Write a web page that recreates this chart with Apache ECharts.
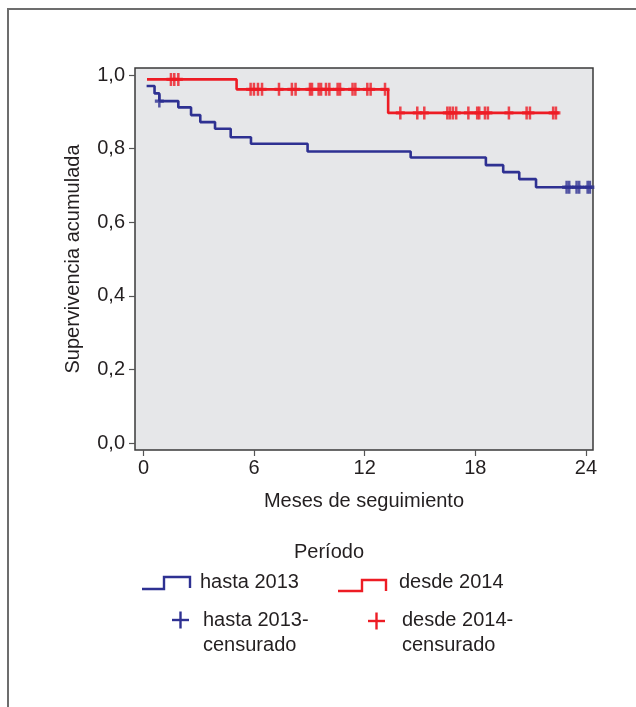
<!DOCTYPE html>
<html>
<head>
<meta charset="utf-8">
<script src="https://cdn.jsdelivr.net/npm/echarts@6/dist/echarts.min.js"></script>
<style>
html,body{margin:0;padding:0;background:#fff;}
#c{width:636px;height:707px;}
</style>
</head>
<body>
<div id="c"></div>
<script>
// ---- data ----
const xTicks = [0, 6, 12, 18, 24];
const yTicks = [0, 0.2, 0.4, 0.6, 0.8, 1.0];

const blueTimes = [0.17, 0.6, 0.86, 1.89, 2.58, 3.08, 3.88, 4.73, 5.83, 8.9, 14.49, 18.57, 19.51, 20.38, 21.29, 24.3];
const blueSurv  = [0.970, 0.950, 0.929, 0.912, 0.891, 0.872, 0.854, 0.831, 0.813, 0.792, 0.776, 0.755, 0.736, 0.717, 0.695, 0.695];
const blueCensor = [0.86, 22.95, 23.09, 23.49, 23.63, 24.09, 24.21];

const redTimes = [0.19, 5.05, 13.27, 22.53];
const redSurv  = [0.988, 0.961, 0.897, 0.897];
const redCensor = [1.49, 1.67, 1.89, 5.81, 5.99, 6.21, 6.43, 7.35, 8.05, 8.25, 9.03, 9.14, 9.5, 9.63, 9.9, 10.08,
  10.53, 10.66, 11.34, 11.49, 12.14, 12.32, 13.1, 13.93, 14.85, 15.23, 16.48, 16.62, 16.78, 16.96, 17.62,
  18.1, 18.21, 18.52, 18.68, 19.82, 20.78, 20.96, 22.22, 22.37];

const seriesNames = ['hasta 2013', 'desde 2014', 'hasta 2013-\ncensurado', 'desde 2014-\ncensurado'];
// ---------------

function stepAt(times, surv, t) {
  let v = surv[0];
  for (let i = 0; i < times.length; i++) { if (times[i] <= t + 1e-9) v = surv[i]; }
  return v;
}
const zip = (a, b) => a.map((v, i) => [v, b[i]]);

const BLUE = '#2e3192', RED = '#ed1c24', TXT = '#231f20';
const FONT = '"Liberation Sans", Arial, sans-serif';
const FS = 20;
const plusPath = 'path://M3.6,0 H6.4 V3.7 H10 V6.3 H6.4 V10 H3.6 V6.3 H0 V3.7 H3.6 Z';

const chart = echarts.init(document.getElementById('c'), null, {renderer: 'canvas'});
chart.setOption({
  backgroundColor: '#ffffff',
  animation: false,
  textStyle: {fontFamily: FONT},
  grid: {left: 135, top: 68, right: 43, bottom: 257, show: true,
         backgroundColor: '#e6e7e9', borderColor: '#3a3a3a', borderWidth: 1.5},
  xAxis: {
    type: 'value', min: -0.46, max: 24.38,
    axisLine: {show: false, onZero: false},
    splitLine: {show: false},
    axisTick: {show: true, inside: false, length: 6, lineStyle: {color: '#555', width: 1.2}, customValues: xTicks},
    axisLabel: {customValues: xTicks, color: TXT, fontSize: FS, fontFamily: FONT, margin: 8},
    name: 'Meses de seguimiento', nameLocation: 'middle', nameGap: 41,
    nameTextStyle: {color: TXT, fontSize: FS, fontFamily: FONT}
  },
  yAxis: {
    type: 'value', min: -0.019, max: 1.019,
    axisLine: {show: false, onZero: false},
    splitLine: {show: false},
    axisTick: {show: true, inside: false, length: 6, lineStyle: {color: '#555', width: 1.2}, customValues: yTicks},
    axisLabel: {customValues: yTicks, color: TXT, fontSize: FS, fontFamily: FONT, margin: 10,
      formatter: v => v.toFixed(1).replace('.', ',')},
    name: 'Supervivencia acumulada', nameLocation: 'middle', nameGap: 52,
    nameTextStyle: {color: TXT, fontSize: FS, fontFamily: FONT}
  },
  series: [
    {name: seriesNames[0], type: 'line', step: 'end', showSymbol: false, data: zip(blueTimes, blueSurv),
     lineStyle: {color: BLUE, width: 2.6}, itemStyle: {color: BLUE}, z: 3},
    {name: seriesNames[1], type: 'line', step: 'end', showSymbol: false, data: zip(redTimes, redSurv),
     lineStyle: {color: RED, width: 2.6}, itemStyle: {color: RED}, z: 3},
    {name: seriesNames[2], type: 'scatter', symbol: plusPath, symbolSize: [9, 13],
     data: blueCensor.map(t => [t, stepAt(blueTimes, blueSurv, t)]), itemStyle: {color: BLUE}, z: 4},
    {name: seriesNames[3], type: 'scatter', symbol: plusPath, symbolSize: [9, 13],
     data: redCensor.map(t => [t, stepAt(redTimes, redSurv, t)]), itemStyle: {color: RED}, z: 4}
  ],
  graphic: [
    // outer frame (top and left edges)
    {type: 'polyline', shape: {points: [[8, 707], [8, 9], [636, 9]]}, style: {stroke: '#6d6d6d', lineWidth: 2, fill: null}},
    // legend
    {type: 'text', x: 329, y: 552, style: {text: 'Período', fill: TXT, font: FS + 'px ' + FONT, align: 'center', verticalAlign: 'middle'}},
    {type: 'polyline', shape: {points: [[142, 589], [164, 589], [164, 577], [190, 577], [190, 588]]}, style: {stroke: BLUE, lineWidth: 2.4, fill: null}},
    {type: 'text', x: 200, y: 582, style: {text: seriesNames[0], fill: TXT, font: FS + 'px ' + FONT, verticalAlign: 'middle'}},
    {type: 'polyline', shape: {points: [[338, 591], [362, 591], [362, 580], [386, 580], [386, 591]]}, style: {stroke: RED, lineWidth: 2.4, fill: null}},
    {type: 'text', x: 399, y: 582, style: {text: seriesNames[1], fill: TXT, font: FS + 'px ' + FONT, verticalAlign: 'middle'}},
    {type: 'line', shape: {x1: 172, y1: 620, x2: 189, y2: 620}, style: {stroke: BLUE, lineWidth: 2.4}},
    {type: 'line', shape: {x1: 180.5, y1: 611.5, x2: 180.5, y2: 628.5}, style: {stroke: BLUE, lineWidth: 2.4}},
    {type: 'text', x: 203, y: 633, style: {text: seriesNames[2], fill: TXT, font: FS + 'px ' + FONT, verticalAlign: 'middle', lineHeight: 25}},
    {type: 'line', shape: {x1: 368, y1: 621, x2: 385, y2: 621}, style: {stroke: RED, lineWidth: 2.4}},
    {type: 'line', shape: {x1: 376.5, y1: 612.5, x2: 376.5, y2: 629.5}, style: {stroke: RED, lineWidth: 2.4}},
    {type: 'text', x: 402, y: 633, style: {text: seriesNames[3], fill: TXT, font: FS + 'px ' + FONT, verticalAlign: 'middle', lineHeight: 25}}
  ]
});
</script>
</body>
</html>
